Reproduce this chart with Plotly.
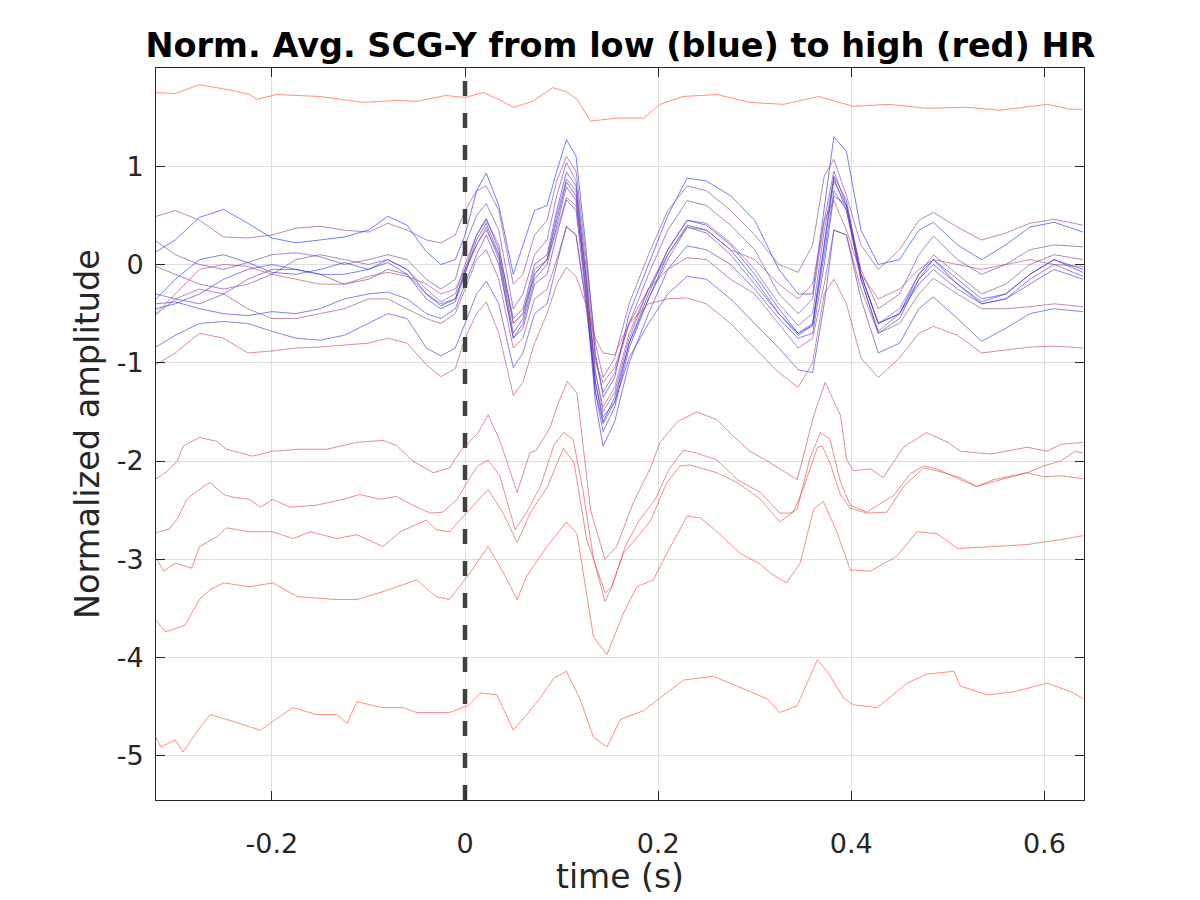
import plotly.graph_objects as go

# ---------------- data ----------------
t_cluster = [-0.32, -0.30, -0.275, -0.25, -0.225, -0.20, -0.175, -0.15, -0.125, -0.10,
             -0.08, -0.06, -0.04, -0.025, -0.01, 0.0, 0.012, 0.022, 0.035, 0.05,
             0.06, 0.072, 0.085, 0.095, 0.105, 0.115, 0.125, 0.135, 0.143, 0.155,
             0.17, 0.19, 0.21, 0.23, 0.25, 0.275, 0.30, 0.325, 0.345, 0.36,
             0.372, 0.382, 0.395, 0.41, 0.428, 0.45, 0.47, 0.485, 0.51, 0.535,
             0.56, 0.585, 0.61, 0.64]

k01 = [0.13, 0.25, 0.48, 0.56, 0.42, 0.27, 0.22, 0.25, 0.28, 0.35,
       0.49, 0.40, 0.13, 0.0, 0.05, 0.3, 0.75, 0.93, 0.6, -0.1,
       0.2, 0.55, 0.6, 0.95, 1.27, 1.1, 0.2, -0.9, -1.35, -1.15,
       -0.5, 0.0, 0.5, 0.88, 0.85, 0.7, 0.45, -0.05, -0.3, -0.3,
       0.6, 1.3, 1.15, 0.35, 0.0, 0.05, 0.35, 0.43, 0.2, 0.05,
       0.2, 0.38, 0.43, 0.33]
k02 = [0.49, 0.55, 0.45, 0.28, 0.27, 0.3, 0.37, 0.39, 0.35, 0.33,
       0.42, 0.35, 0.25, 0.22, 0.3, 0.55, 0.75, 0.8, 0.55, -0.2,
       -0.1, 0.3, 0.45, 0.85, 1.10, 0.95, 0.1, -0.8, -1.15, -0.95,
       -0.4, 0.1, 0.55, 0.8, 0.75, 0.55, 0.3, 0.0, -0.08, 0.2,
       0.9, 1.07, 0.7, 0.2, -0.05, 0.15, 0.45, 0.53, 0.38, 0.25,
       0.32, 0.42, 0.46, 0.40]
k03 = [0.24, 0.1, 0.0, -0.05, 0.02, 0.1, 0.12, 0.08, 0.0, 0.05,
       0.1, 0.05, -0.15, -0.25, -0.15, 0.2, 0.5, 0.62, 0.35, -0.45,
       -0.3, 0.1, 0.25, 0.7, 1.04, 0.85, 0.0, -0.95, -1.3, -1.1,
       -0.6, -0.1, 0.35, 0.65, 0.6, 0.4, 0.15, -0.3, -0.5, -0.35,
       0.45, 0.95, 0.6, -0.05, -0.45, -0.3, 0.1, 0.29, 0.05, -0.1,
       0.0, 0.15, 0.2, 0.18]
k04 = [-0.35, -0.15, 0.05, 0.1, 0.02, -0.08, -0.1, -0.05, 0.02, -0.05,
       0.05, -0.05, -0.3, -0.42, -0.35, -0.05, 0.3, 0.47, 0.15, -0.55,
       -0.45, 0.0, 0.1, 0.55, 0.94, 0.8, -0.1, -1.2, -1.6, -1.35,
       -0.8, -0.3, 0.15, 0.45, 0.4, 0.2, -0.1, -0.45, -0.7, -0.6,
       0.2, 0.9, 0.65, -0.1, -0.6, -0.5, -0.1, 0.05, -0.15, -0.35,
       -0.3, -0.1, 0.05, -0.05]
k05 = [-0.02, -0.1, -0.2, -0.25, -0.2, -0.1, 0.05, 0.1, 0.05, 0.0,
       0.05, -0.05, -0.25, -0.38, -0.3, 0.0, 0.3, 0.45, 0.2, -0.6,
       -0.5, -0.05, 0.05, 0.5, 0.87, 0.75, -0.1, -1.1, -1.5, -1.3,
       -0.75, -0.25, 0.15, 0.45, 0.42, 0.22, -0.05, -0.4, -0.62, -0.5,
       0.35, 0.88, 0.55, -0.1, -0.6, -0.45, -0.1, 0.1, -0.1, -0.3,
       -0.2, 0.0, 0.1, 0.05]
k06 = [-0.45, -0.4, -0.3, -0.15, -0.05, 0.0, -0.05, -0.1, -0.1, -0.05,
       0.02, -0.1, -0.35, -0.45, -0.38, -0.1, 0.25, 0.42, 0.1, -0.7,
       -0.55, -0.1, 0.05, 0.45, 0.84, 0.7, -0.2, -1.3, -1.7, -1.45,
       -0.85, -0.35, 0.1, 0.4, 0.35, 0.15, -0.15, -0.5, -0.72, -0.62,
       0.2, 0.85, 0.6, -0.15, -0.7, -0.55, -0.15, 0.05, -0.2, -0.38,
       -0.3, -0.1, 0.05, -0.08]
k07 = [-0.3, -0.35, -0.4, -0.3, -0.15, -0.05, -0.05, -0.1, -0.2, -0.15,
       -0.05, -0.1, -0.3, -0.4, -0.35, -0.08, 0.2, 0.38, 0.05, -0.75,
       -0.6, -0.15, 0.0, 0.4, 0.79, 0.65, -0.25, -1.3, -1.62, -1.4,
       -0.8, -0.35, 0.05, 0.38, 0.32, 0.1, -0.2, -0.5, -0.7, -0.62,
       0.1, 0.75, 0.55, -0.15, -0.68, -0.5, -0.15, 0.0, -0.2, -0.4,
       -0.35, -0.15, 0.0, -0.12]
k08 = [-0.5, -0.3, -0.05, 0.0, -0.02, -0.1, -0.15, -0.2, -0.2, -0.12,
       -0.08, -0.12, -0.2, -0.3, -0.25, -0.05, 0.2, 0.35, 0.1, -0.6,
       -0.5, -0.1, 0.05, 0.35, 0.68, 0.6, -0.1, -1.1, -1.45, -1.25,
       -0.7, -0.25, 0.1, 0.38, 0.35, 0.15, 0.05, -0.2, -0.35, -0.2,
       0.45, 0.65, 0.35, -0.1, -0.35, -0.25, -0.05, 0.05, 0.0, -0.05,
       0.0, 0.05, 0.0, -0.02]
k09 = [-0.4, -0.38, -0.45, -0.5, -0.52, -0.48, -0.5, -0.45, -0.35, -0.3,
       -0.28, -0.35, -0.5, -0.55, -0.45, -0.2, 0.1, 0.3, 0.0, -0.75,
       -0.65, -0.2, -0.1, 0.3, 0.66, 0.55, -0.3, -1.4, -1.85, -1.6,
       -1.0, -0.5, -0.05, 0.19, 0.15, 0.0, -0.25, -0.55, -0.75, -0.7,
       0.0, 0.7, 0.6, -0.1, -0.6, -0.5, -0.2, -0.05, -0.25, -0.4,
       -0.35, -0.2, -0.05, -0.15]
k10 = [-0.84, -0.72, -0.6, -0.58, -0.6, -0.68, -0.75, -0.77, -0.72, -0.6,
       -0.5, -0.55, -0.85, -0.93, -0.85, -0.6, -0.3, -0.17, -0.4, -1.05,
       -0.9, -0.5, -0.4, 0.0, 0.39, 0.3, -0.4, -1.2, -1.55, -1.4,
       -0.95, -0.6, -0.3, -0.12, -0.15, -0.35, -0.6, -0.85, -1.07, -1.1,
       -0.4, 0.35, 0.3, -0.35, -0.9, -0.8, -0.45, -0.33, -0.55, -0.78,
       -0.65, -0.5, -0.45, -0.48]
k11 = [-0.51, -0.35, -0.25, -0.3, -0.45, -0.55, -0.55, -0.5, -0.45, -0.35,
       -0.35, -0.45, -0.55, -0.6, -0.5, -0.25, 0.05, 0.15, -0.15, -0.85,
       -0.75, -0.35, -0.25, 0.05, 0.38, 0.3, -0.35, -1.0, -1.2, -1.05,
       -0.6, -0.25, -0.05, 0.07, 0.05, -0.15, -0.3, -0.6, -0.85, -0.75,
       -0.2, 0.35, 0.3, -0.25, -0.7, -0.6, -0.3, -0.14, -0.3, -0.45,
       -0.45, -0.43, -0.4, -0.43]
k12 = [-1.02, -0.9, -0.7, -0.75, -0.9, -0.88, -0.85, -0.84, -0.82, -0.8,
       -0.75, -0.8, -1.02, -1.14, -1.06, -0.75, -0.5, -0.38, -0.7, -1.33,
       -1.2, -0.8, -0.5, -0.2, -0.03, -0.12, -0.4, -0.75, -0.9, -0.92,
       -0.6, -0.4, -0.35, -0.34, -0.4, -0.6, -0.85, -1.1, -1.25, -1.0,
       -0.3, -0.15, -0.4, -0.95, -1.15, -0.95, -0.7, -0.63, -0.72, -0.9,
       -0.87, -0.84, -0.83, -0.85]

a_t = [-0.32, -0.30, -0.275, -0.24, -0.223, -0.216, -0.195, -0.15, -0.105, -0.07,
       -0.05, -0.02, 0.0, 0.019, 0.035, 0.05, 0.07, 0.091, 0.105, 0.116,
       0.13, 0.157, 0.185, 0.202, 0.226, 0.261, 0.295, 0.33, 0.366, 0.402,
       0.44, 0.478, 0.52, 0.554, 0.603, 0.627, 0.64]
a_y = [1.75, 1.74, 1.83, 1.77, 1.73, 1.68, 1.73, 1.71, 1.65, 1.67,
       1.66, 1.72, 1.70, 1.75, 1.68, 1.60, 1.66, 1.80, 1.76, 1.68,
       1.46, 1.49, 1.49, 1.63, 1.71, 1.73, 1.65, 1.63, 1.71, 1.61,
       1.63, 1.59, 1.60, 1.57, 1.63, 1.58, 1.58]

b_t = [-0.32, -0.309, -0.298, -0.292, -0.275, -0.257, -0.247, -0.22, -0.199, -0.171,
       -0.143, -0.112, -0.085, -0.071, -0.054, -0.033, -0.016, -0.005, 0.0, 0.013,
       0.024, 0.036, 0.054, 0.067, 0.074, 0.088, 0.097, 0.106, 0.116, 0.13,
       0.145, 0.157, 0.174, 0.192, 0.202, 0.22, 0.24, 0.261, 0.278, 0.295,
       0.313, 0.33, 0.344, 0.354, 0.361, 0.373, 0.389, 0.395, 0.402, 0.42,
       0.433, 0.454, 0.478, 0.5, 0.513, 0.544, 0.582, 0.603, 0.617, 0.64]
b_y = [-2.18, -2.11, -2.0, -1.85, -1.76, -1.80, -1.88, -1.95, -1.90, -1.88,
       -1.88, -1.81, -1.79, -1.84, -2.0, -2.12, -2.07, -1.90, -1.85, -1.72,
       -1.53, -1.79, -2.32, -1.92, -1.89, -1.66, -1.4, -1.19, -1.31, -2.5,
       -3.0, -2.87, -2.43, -2.07, -1.81, -1.60, -1.50, -1.58, -1.75, -1.90,
       -2.0, -2.1, -2.19, -1.81, -1.54, -1.20, -1.54, -1.98, -2.1, -2.08,
       -2.17, -1.86, -1.71, -1.81, -1.9, -1.93, -1.86, -1.9, -1.83, -1.81]

c_t = [-0.32, -0.306, -0.298, -0.288, -0.282, -0.271, -0.264, -0.25, -0.24, -0.223,
       -0.212, -0.199, -0.181, -0.154, -0.126, -0.109, -0.088, -0.071, -0.054, -0.036,
       -0.023, -0.008, 0.0, 0.013, 0.024, 0.036, 0.052, 0.064, 0.078, 0.092,
       0.102, 0.112, 0.122, 0.133, 0.145, 0.152, 0.166, 0.18, 0.197, 0.211,
       0.226, 0.24, 0.261, 0.282, 0.306, 0.326, 0.337, 0.344, 0.357, 0.368,
       0.378, 0.389, 0.399, 0.416, 0.444, 0.461, 0.475, 0.489, 0.513, 0.53,
       0.547, 0.582, 0.599, 0.617, 0.632, 0.64]
c_y = [-2.73, -2.69, -2.59, -2.39, -2.34, -2.26, -2.22, -2.34, -2.37, -2.39,
       -2.47, -2.39, -2.47, -2.45, -2.39, -2.34, -2.39, -2.36, -2.45, -2.53,
       -2.52, -2.39, -2.25, -2.05, -1.99, -2.15, -2.70, -2.52, -2.26, -1.84,
       -1.71, -1.78, -2.29, -2.99, -3.43, -3.28, -2.87, -2.61, -2.39, -2.09,
       -1.89, -1.92, -1.99, -2.19, -2.32, -2.53, -2.53, -2.49, -1.98, -1.71,
       -1.78, -2.22, -2.45, -2.52, -2.35, -2.13, -2.05, -2.08, -2.19, -2.26,
       -2.19, -2.12, -2.05, -2.0, -1.9, -1.92]

d_t = [-0.32, -0.312, -0.3, -0.283, -0.275, -0.257, -0.247, -0.223, -0.199, -0.178,
       -0.16, -0.133, -0.112, -0.085, -0.067, -0.04, -0.03, -0.016, 0.005, 0.024,
       0.04, 0.054, 0.068, 0.085, 0.102, 0.113, 0.126, 0.145, 0.152, 0.164,
       0.178, 0.192, 0.209, 0.223, 0.233, 0.261, 0.282, 0.306, 0.326, 0.34,
       0.35, 0.365, 0.37, 0.378, 0.389, 0.399, 0.416, 0.437, 0.454, 0.475,
       0.489, 0.513, 0.53, 0.547, 0.582, 0.599, 0.617, 0.64]
d_y = [-2.99, -3.12, -3.04, -3.09, -2.87, -2.77, -2.68, -2.72, -2.72, -2.79,
       -2.72, -2.79, -2.75, -2.87, -2.72, -2.6, -2.7, -2.72, -2.49, -2.29,
       -2.54, -2.83, -2.52, -2.27, -1.87, -2.02, -2.80, -3.34, -3.28, -2.94,
       -2.78, -2.61, -2.22, -2.05, -2.04, -2.12, -2.22, -2.39, -2.62, -2.52,
       -2.29, -1.86, -1.85, -2.02, -2.35, -2.48, -2.53, -2.52, -2.26, -2.07,
       -2.1, -2.17, -2.26, -2.21, -2.12, -2.16, -2.15, -2.18]

e_t = [-0.32, -0.31, -0.29, -0.275, -0.264, -0.25, -0.223, -0.199, -0.174, -0.133,
       -0.112, -0.085, -0.05, -0.03, -0.016, 0.005, 0.024, 0.04, 0.054, 0.064,
       0.085, 0.105, 0.116, 0.133, 0.147, 0.164, 0.178, 0.195, 0.209, 0.23,
       0.244, 0.261, 0.285, 0.306, 0.316, 0.333, 0.347, 0.361, 0.371, 0.385,
       0.399, 0.42, 0.447, 0.468, 0.489, 0.51, 0.547, 0.582, 0.617, 0.64]
e_y = [-3.62, -3.74, -3.67, -3.41, -3.31, -3.24, -3.28, -3.24, -3.38, -3.41,
       -3.41, -3.33, -3.21, -3.38, -3.41, -3.14, -2.87, -3.14, -3.41, -3.17,
       -2.87, -2.62, -2.74, -3.79, -3.97, -3.55, -3.28, -3.21, -2.94, -2.56,
       -2.58, -2.72, -2.94, -3.05, -3.14, -3.24, -3.04, -2.49, -2.41, -2.72,
       -3.11, -3.12, -2.97, -2.72, -2.74, -2.89, -2.87, -2.85, -2.80, -2.76]

f_t = [-0.32, -0.315, -0.30, -0.292, -0.275, -0.264, -0.24, -0.212, -0.199, -0.178,
       -0.154, -0.133, -0.122, -0.112, -0.085, -0.064, -0.05, -0.016, 0.003, 0.016,
       0.033, 0.05, 0.064, 0.078, 0.092, 0.105, 0.119, 0.133, 0.147, 0.161,
       0.185, 0.202, 0.226, 0.257, 0.282, 0.313, 0.326, 0.344, 0.365, 0.375,
       0.392, 0.402, 0.427, 0.458, 0.478, 0.506, 0.513, 0.541, 0.568, 0.603,
       0.63, 0.64]
f_y = [-4.81, -4.91, -4.84, -4.96, -4.72, -4.58, -4.65, -4.74, -4.65, -4.51,
       -4.58, -4.58, -4.67, -4.45, -4.51, -4.51, -4.56, -4.56, -4.49, -4.36,
       -4.38, -4.74, -4.58, -4.41, -4.21, -4.14, -4.42, -4.81, -4.91, -4.63,
       -4.54, -4.41, -4.23, -4.19, -4.29, -4.42, -4.56, -4.49, -4.02, -4.14,
       -4.41, -4.48, -4.51, -4.26, -4.17, -4.14, -4.29, -4.38, -4.35, -4.26,
       -4.36, -4.42]

x_ticks = [-0.2, 0, 0.2, 0.4, 0.6]
x_tick_labels = ["-0.2", "0", "0.2", "0.4", "0.6"]
y_ticks = [-5, -4, -3, -2, -1, 0, 1]
y_tick_labels = ["-5", "-4", "-3", "-2", "-1", "0", "1"]
marker_t = [0.0, 0.0]
marker_y = [-5.45, 2.0]

# ---------------- style ----------------
BLUE = (20, 40, 255)
RED = (255, 75, 25)
ALPHA = 0.6


def hr_color(frac):
    r = round(BLUE[0] + (RED[0] - BLUE[0]) * frac)
    g = round(BLUE[1] + (RED[1] - BLUE[1]) * frac)
    b = round(BLUE[2] + (RED[2] - BLUE[2]) * frac)
    return f"rgba({r},{g},{b},{ALPHA})"


cluster = [
    (k01, 0.00), (k04, 0.05), (k06, 0.10), (k09, 0.12), (k10, 0.15),
    (k07, 0.25), (k03, 0.40), (k05, 0.45), (k02, 0.50), (k11, 0.55),
    (k08, 0.65), (k12, 0.70),
]
reds = [
    (b_t, b_y, 0.76), (c_t, c_y, 0.82), (d_t, d_y, 0.86),
    (e_t, e_y, 0.91), (f_t, f_y, 0.96), (a_t, a_y, 1.0),
]

fig = go.Figure()
for ys, frac in cluster:
    fig.add_trace(go.Scatter(x=t_cluster, y=ys, mode="lines",
                             line=dict(color=hr_color(frac), width=1),
                             hoverinfo="skip", showlegend=False))
for ts, ys, frac in reds:
    fig.add_trace(go.Scatter(x=ts, y=ys, mode="lines",
                             line=dict(color=hr_color(frac), width=1),
                             hoverinfo="skip", showlegend=False))

fig.add_trace(go.Scatter(x=marker_t, y=marker_y, mode="lines",
                         line=dict(color="#404040", width=4.5, dash="15px,17px"),
                         hoverinfo="skip", showlegend=False))

axis_common = dict(
    showline=True, linecolor="#262626", linewidth=1, mirror="ticks",
    ticks="inside", ticklen=9, tickcolor="#262626", tickwidth=1,
    showgrid=True, gridcolor="#dedede", gridwidth=1, zeroline=False,
    tickfont=dict(family="DejaVu Sans", size=27, color="#262626"),
)

fig.update_layout(
    width=1200, height=900,
    paper_bgcolor="white", plot_bgcolor="white",
    margin=dict(l=148, r=124, t=60, b=108),
    title=dict(text="<b>Norm. Avg. SCG-Y from low (blue) to high (red) HR</b>",
               x=0.5104, xanchor="center", y=1 - 37 / 900, yanchor="middle",
               yref="container",
               font=dict(family="DejaVu Sans", size=33.5, color="black")),
    xaxis=dict(range=[-0.32, 0.641], tickvals=x_ticks, ticktext=x_tick_labels,
               ticklabelstandoff=20, **axis_common),
    yaxis=dict(range=[-5.45, 2.0], tickvals=y_ticks, ticktext=y_tick_labels,
               ticklabelstandoff=6, **axis_common),
    annotations=[
        dict(text="time (s)", xref="paper", yref="paper", x=0.5, y=-0.1045,
             xanchor="center", yanchor="middle", showarrow=False,
             font=dict(family="DejaVu Sans", size=33, color="#262626")),
        dict(text="Normalized amplitude", xref="paper", yref="paper",
             x=-0.0744, y=0.5, xanchor="center", yanchor="middle",
             textangle=-90, showarrow=False,
             font=dict(family="DejaVu Sans", size=33.5, color="#262626")),
    ],
)

fig.write_html("out.html")
